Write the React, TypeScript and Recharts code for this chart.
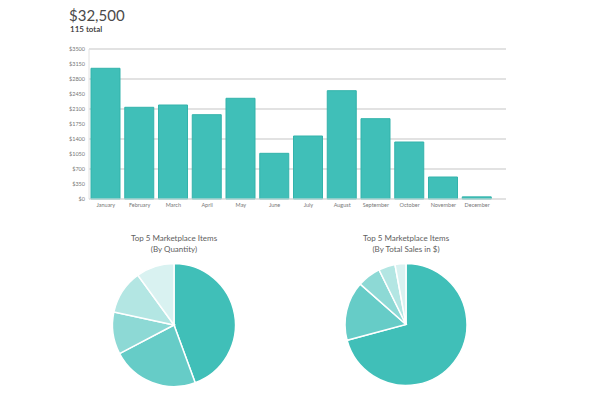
import React from 'react';
import { BarChart, Bar, XAxis, YAxis, CartesianGrid, PieChart, Pie, Cell } from 'recharts';

const months = ['January', 'February', 'March', 'April', 'May', 'June', 'July', 'August', 'September', 'October', 'November', 'December'];
const monthlySales = [3050, 2140, 2193, 1967, 2350, 1066, 1470, 2527, 1874, 1330, 513, 50];
const yTicks = [0, 350, 700, 1050, 1400, 1750, 2100, 2450, 2800, 3150, 3500];

const itemNames = ['Item 1', 'Item 2', 'Item 3', 'Item 4', 'Item 5'];
const byQuantity = [44.4, 22.9, 11.1, 11.6, 10];
const bySales = [70.9, 15.7, 6.2, 4.4, 2.9];
const sliceColors = ['#40bfb8', '#66ccc7', '#8dd9d5', '#b3e6e3', '#d9f2f1'];

const barData = months.map((m, i) => ({ month: m, value: monthlySales[i] }));
const qtyData = itemNames.map((n, i) => ({ name: n, value: byQuantity[i] }));
const salesData = itemNames.map((n, i) => ({ name: n, value: bySales[i] }));

const font = 'Lato, "Open Sans", sans-serif';

export default function App() {
  return (
    <div style={{ position: 'absolute', left: 0, top: 0, width: 590, height: 395, background: '#fff', fontFamily: font }}>
      <div style={{ position: 'absolute', left: 69, top: 8, fontSize: 15, color: '#4a4a4a', lineHeight: '15px', whiteSpace: 'nowrap' }}>$32,500</div>
      <div style={{ position: 'absolute', left: 70, top: 25, fontSize: 8, fontWeight: 600, color: '#333', lineHeight: '8px', whiteSpace: 'nowrap' }}>115 total</div>
      <div style={{ position: 'absolute', left: 0, top: 0 }}>
        <BarChart width={590} height={215} data={barData} margin={{ top: 49, right: 84, bottom: 0, left: 59 }}>
          <CartesianGrid vertical={false} stroke="#c6c6c6" strokeWidth={1.2} />
          <XAxis
            dataKey="month"
            height={16}
            tickSize={0}
            tickMargin={4}
            tickLine={false}
            axisLine={{ stroke: '#e2e2e2' }}
            padding={{ left: 0, right: 12 }}
            interval={0}
            tick={{ fontSize: 5.5, fill: '#777', fontFamily: font }}
          />
          <YAxis
            width={30}
            domain={[0, 3500]}
            ticks={yTicks}
            tickSize={0}
            tickMargin={4}
            tickLine={false}
            axisLine={{ stroke: '#e2e2e2' }}
            tickFormatter={(v: number) => `$${v}`}
            tick={{ fontSize: 5.5, fill: '#777', fontFamily: font }}
          />
          <Bar dataKey="value" fill="#40bfb8" stroke="#33b3ab" strokeWidth={1} barSize={29} isAnimationActive={false} />
        </BarChart>
      </div>
      <div style={{ position: 'absolute', left: 74, top: 233, width: 200, textAlign: 'center', fontSize: 8, color: '#606060', lineHeight: '11px' }}>
        Top 5 Marketplace Items<br />(By Quantity)
      </div>
      <div style={{ position: 'absolute', left: 306, top: 233, width: 200, textAlign: 'center', fontSize: 8, color: '#606060', lineHeight: '11px' }}>
        Top 5 Marketplace Items<br />(By Total Sales in $)
      </div>
      <div style={{ position: 'absolute', left: 0, top: 0 }}>
        <PieChart width={590} height={395} margin={{ top: 0, right: 0, bottom: 0, left: 0 }}>
          <Pie
            data={qtyData}
            dataKey="value"
            cx={174}
            cy={325}
            outerRadius={61.5}
            startAngle={90}
            endAngle={-270}
            stroke="#fff"
            strokeWidth={1.5}
            isAnimationActive={false}
          >
            {qtyData.map((d, i) => (
              <Cell key={d.name} fill={sliceColors[i]} />
            ))}
          </Pie>
          <Pie
            data={salesData}
            dataKey="value"
            cx={406}
            cy={324.5}
            outerRadius={61}
            startAngle={90}
            endAngle={-270}
            stroke="#fff"
            strokeWidth={1.5}
            isAnimationActive={false}
          >
            {salesData.map((d, i) => (
              <Cell key={d.name} fill={sliceColors[i]} />
            ))}
          </Pie>
        </PieChart>
      </div>
    </div>
  );
}
